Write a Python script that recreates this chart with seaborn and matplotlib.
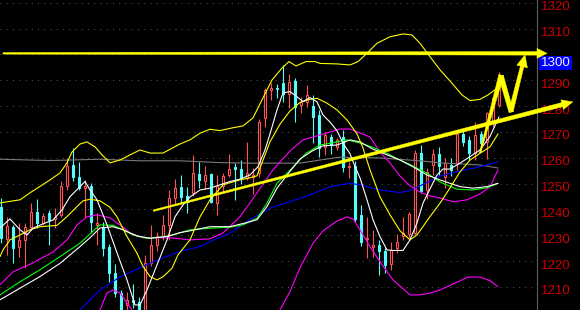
import numpy as np
import matplotlib
matplotlib.use("Agg")
import matplotlib.pyplot as plt
import matplotlib.transforms as mtransforms
from matplotlib.patches import Polygon
import seaborn as sns

# ---------------- candle data ----------------
opens = [1240.9, 1228.5, 1233.0, 1225.4, 1228.2, 1233.3, 1239.1, 1234.6, 1238.7, 1236.2,
         1237.9, 1249.1, 1257.2, 1252.7, 1248.2, 1249.1, 1234.0, 1233.3, 1225.6, 1215.4,
         1207.7, 1203.0, 1205.0, 1204.0, 1201.0, 1219.2, 1226.3, 1229.6, 1234.0, 1244.3,
         1248.8, 1245.2, 1246.3, 1253.7, 1251.1, 1253.7, 1242.4, 1249.1, 1253.3, 1256.3,
         1255.5, 1252.1, 1252.5, 1254.0, 1275.3, 1286.2, 1287.0, 1289.1, 1284.6, 1289.8,
         1280.4, 1281.7, 1280.0, 1276.5, 1264.3, 1268.1, 1264.3, 1267.9, 1256.3, 1256.8,
         1237.9, 1228.4, 1225.6, 1226.3, 1223.7, 1218.9, 1225.0, 1229.5, 1230.6, 1230.8,
         1261.7, 1247.5, 1257.2, 1261.4, 1252.7, 1257.2, 1257.9, 1269.2, 1266.9, 1261.7,
         1269.2, 1266.2, 1274.0, 1280.4]
highs = [1244.4, 1237.2, 1234.0, 1234.7, 1234.9, 1242.4, 1243.9, 1238.7, 1239.8, 1240.5,
         1250.8, 1259.8, 1263.7, 1258.5, 1251.4, 1250.2, 1238.6, 1235.0, 1226.5, 1219.0,
         1208.8, 1208.0, 1211.2, 1206.0, 1222.4, 1234.0, 1231.4, 1237.9, 1247.5, 1251.7,
         1253.3, 1248.8, 1261.0, 1258.5, 1256.8, 1254.0, 1253.3, 1254.0, 1261.5, 1258.0,
         1259.0, 1266.2, 1256.0, 1275.0, 1286.9, 1288.8, 1288.4, 1295.9, 1292.4, 1290.7,
         1283.6, 1288.1, 1284.3, 1278.5, 1270.1, 1269.0, 1267.7, 1270.7, 1258.5, 1258.8,
         1241.5, 1237.2, 1232.0, 1228.2, 1225.0, 1227.5, 1230.5, 1237.2, 1239.0, 1263.0,
         1264.9, 1256.0, 1263.2, 1264.0, 1259.8, 1259.8, 1270.1, 1271.0, 1268.5, 1273.9,
         1270.5, 1277.8, 1284.0, 1293.3]
lows = [1227.0, 1222.4, 1219.4, 1221.7, 1217.2, 1232.1, 1232.7, 1234.0, 1226.3, 1232.7,
        1237.2, 1247.5, 1250.8, 1247.5, 1237.2, 1231.0, 1226.3, 1222.0, 1212.0, 1206.0,
        1199.0, 1201.0, 1202.0, 1200.0, 1199.0, 1218.0, 1224.0, 1228.0, 1228.0, 1242.0,
        1242.4, 1238.5, 1245.0, 1248.2, 1248.0, 1242.4, 1238.0, 1246.3, 1252.7, 1243.7,
        1250.0, 1251.4, 1246.0, 1252.5, 1272.0, 1282.4, 1283.0, 1281.7, 1279.1, 1274.0,
        1277.2, 1279.7, 1265.6, 1260.4, 1261.0, 1261.5, 1263.0, 1254.6, 1252.0, 1235.0,
        1226.0, 1221.0, 1221.5, 1214.6, 1215.3, 1216.6, 1223.0, 1228.2, 1229.0, 1230.1,
        1246.3, 1244.0, 1253.3, 1253.3, 1248.2, 1253.0, 1255.3, 1264.5, 1259.0, 1259.1,
        1262.5, 1259.4, 1272.0, 1279.8]
closes = [1228.9, 1233.6, 1225.2, 1228.2, 1233.3, 1239.1, 1234.6, 1237.4, 1235.9, 1237.2,
          1249.1, 1256.8, 1252.4, 1248.2, 1249.1, 1235.2, 1234.7, 1225.0, 1215.3, 1207.7,
          1200.5, 1205.0, 1204.0, 1201.5, 1219.2, 1226.3, 1229.6, 1234.0, 1244.3, 1248.2,
          1244.9, 1243.0, 1254.0, 1251.4, 1253.4, 1243.0, 1249.1, 1252.9, 1255.8, 1255.5,
          1252.1, 1254.0, 1253.4, 1274.0, 1286.2, 1286.9, 1286.6, 1284.6, 1289.4, 1279.8,
          1281.7, 1284.3, 1275.9, 1263.7, 1268.8, 1264.9, 1266.9, 1256.5, 1256.8, 1236.2,
          1227.5, 1228.9, 1226.3, 1223.7, 1218.5, 1224.3, 1227.5, 1231.0, 1238.3, 1261.7,
          1247.3, 1254.6, 1261.4, 1256.6, 1257.9, 1255.3, 1269.2, 1266.2, 1261.7, 1268.8,
          1265.6, 1277.2, 1283.0, 1290.1]

tick_values = [1210, 1220, 1230, 1240, 1250, 1260, 1270, 1280, 1290, 1300, 1310, 1320]
tick_labels = [str(v) for v in tick_values]

# ---------------- indicator lines (x = bar index, y = price) ----------------
ma_fast_x = [-0.17, 1.5, 3.17, 4.33, 5.33, 7, 8.67, 10.17, 11.5, 13.17, 14, 14.83, 16, 17.67,
             19.33, 21, 22.33, 23.17, 24.33, 26, 27.67, 29, 30.33, 31.5, 33.17, 34.83, 36.5,
             38.17, 39.83, 41.5, 42.83, 44, 44.83, 46, 47, 48.17, 49.33, 50.33, 51.5, 52.67,
             53.67, 54.83, 56, 57, 58.17, 59, 59.83, 61, 62, 63.17, 64.33, 65.33, 67, 68.17,
             69.33, 70.33, 71.5, 72.67, 73.67, 74.83, 76.5, 78.17, 79.83, 81.5, 83]
ma_fast_y = [1232.8, 1236.3, 1232.1, 1230.1, 1232.7, 1234.4, 1235.9, 1239.8, 1244.9, 1248.8,
             1250.8, 1247.5, 1243.7, 1234.0, 1223.2, 1212.7, 1203.0, 1203.0, 1208.8, 1218.5,
             1228.2, 1237.1, 1241.7, 1244.8, 1247.5, 1248.2, 1249.5, 1250.8, 1251.7, 1253.3,
             1256.5, 1263.0, 1269.2, 1278.5, 1285.1, 1285.6, 1283.6, 1281.7, 1283.3, 1281.6,
             1276.5, 1273.8, 1270.4, 1265.6, 1261.5, 1256.5, 1252.2, 1243.7, 1236.0, 1229.4,
             1224.3, 1224.1, 1224.1, 1228.2, 1234.7, 1242.4, 1247.9, 1253.3, 1255.6, 1255.6,
             1257.9, 1260.4, 1263.0, 1268.2, 1275.8]

ma_yellow_x = [-0.17, 0.33, 1.5, 3.17, 4.83, 6.5, 9.33, 11, 12.67, 13.67, 14.83, 16.5, 18.17,
               19.33, 21, 22.67, 23.67, 24.83, 26, 27, 28.5, 29.5, 31.5, 33.17, 34.83, 37,
               39.83, 41.5, 42.67, 43.67, 44.83, 46.5, 48.17, 49.83, 51.17, 52.67, 54.33, 56,
               57.67, 59.33, 60.33, 61.5, 63.17, 64.83, 66.5, 68.17, 69.33, 71.5, 73.17, 74.83,
               76.5, 78.17, 79.83, 81.5, 82.83]
ma_yellow_y = [1221.7, 1224.3, 1228.2, 1230.1, 1232.1, 1233.3, 1233.8, 1237.2, 1241.1, 1243.3,
               1243.9, 1243.3, 1240.8, 1237.1, 1229.5, 1223.0, 1217.9, 1214.0, 1212.7, 1213.9,
               1217.2, 1222.4, 1228.2, 1237.1, 1243.7, 1249.5, 1251.4, 1252.2, 1253.0, 1259.1,
               1266.1, 1273.0, 1278.1, 1281.4, 1282.4, 1283.0, 1281.1, 1278.5, 1274.6, 1269.2,
               1263.8, 1255.3, 1244.8, 1237.9, 1231.7, 1228.2, 1230.1, 1237.2, 1242.4, 1248.3,
               1254.5, 1259.1, 1261.7, 1264.2, 1269.2]

ma_green_x = [-0.17, 3.17, 6.5, 9.83, 13.17, 14.83, 16.5, 18.67, 20.33, 22, 24.33, 26.5, 28.67,
              31.5, 34.83, 38.17, 40.33, 42.67, 44.33, 46, 47.67, 49.33, 50.83, 53.17, 55.33,
              57.67, 59.83, 62, 64.33, 66.5, 68.67, 71, 73.17, 76, 78.67, 81, 82.83]
ma_green_y = [1206.9, 1212.0, 1216.6, 1221.7, 1226.9, 1230.5, 1234.0, 1233.8, 1232.1, 1230.1,
              1228.8, 1229.2, 1230.1, 1232.1, 1232.7, 1233.1, 1234.0, 1236.6, 1242.4, 1250.1,
              1254.0, 1257.9, 1261.7, 1264.9, 1265.8, 1266.9, 1265.7, 1264.0, 1261.7, 1259.1,
              1256.8, 1254.0, 1250.6, 1247.8, 1247.5, 1248.4, 1250.0]

ma_white2_x = [-0.17, 3.17, 6.5, 9.83, 13.17, 14.83, 16.5, 18.67, 20.33, 22.67, 24.83, 27.67,
               29.83, 31.5, 34.83, 38.17, 41, 42.67, 44.33, 46, 47.67, 49.83, 52, 53.67, 56,
               58.17, 59.83, 62, 66.5, 68.67, 71, 73.17, 76.5, 78.67, 81, 82.83]
ma_white2_y = [1205.0, 1209.5, 1214.0, 1219.1, 1225.6, 1229.0, 1232.8, 1233.3, 1232.1, 1229.7,
               1228.8, 1229.5, 1231.0, 1231.7, 1233.3, 1233.3, 1234.9, 1236.0, 1241.1, 1248.2,
               1253.3, 1259.5, 1262.8, 1264.6, 1264.9, 1266.9, 1266.1, 1263.3, 1259.1, 1256.5,
               1253.3, 1251.4, 1248.8, 1248.2, 1248.8, 1250.1]

ma_magenta_x = [-0.17, 2, 5.33, 8.67, 11, 12.67, 14.33, 16, 18.17, 19.83, 21.5, 23.67, 26,
                28.17, 31.5, 34.83, 37, 39.83, 42.67, 45.33, 48.17, 50.33, 52, 54.33, 56.5,
                58.17, 59.83, 61.5, 63.17, 64.83, 66.5, 68.17, 69.83, 71.5, 73.17, 75.33,
                77.67, 79.83, 81.5, 82.83]
ma_magenta_y = [1210.8, 1215.8, 1219.3, 1223.5, 1228.2, 1234.0, 1237.1, 1237.9, 1236.7, 1234.0,
                1230.9, 1229.0, 1229.0, 1229.0, 1228.2, 1228.6, 1230.9, 1237.1, 1246.4, 1255.3,
                1262.6, 1266.9, 1268.0, 1269.6, 1271.1, 1271.1, 1269.6, 1268.0, 1262.2, 1258.0,
                1252.9, 1249.1, 1246.7, 1245.2, 1244.4, 1242.9, 1243.7, 1246.0, 1248.7, 1255.3]

ma_blue_x = [12.5, 13.17, 16.5, 19.83, 23.67, 26.5, 29.83, 33.17, 34.83, 38.17, 41.5, 44.83,
             48.17, 51.5, 54.83, 58.17, 59.83, 63.17, 66.5, 68.17, 69.83, 73.17, 76.5, 79.83,
             82.83]
ma_blue_y = [1199.5, 1201.1, 1208.8, 1213.9, 1217.9, 1220.8, 1223.7, 1225.6, 1227.5, 1230.8,
             1236.0, 1240.5, 1243.0, 1245.6, 1248.8, 1250.1, 1249.5, 1247.5, 1246.5, 1247.3,
             1249.1, 1252.9, 1254.9, 1256.5, 1258.4]

ma_gray_x = [-0.17, 8.17, 16.5, 23.17, 29.83, 36.5, 41.5, 49.83, 53.17, 56.5, 63.17, 69.83,
             73.17, 79.83, 82.83]
ma_gray_y = [1259.4, 1258.9, 1259.4, 1258.8, 1258.8, 1258.1, 1257.9, 1257.9, 1259.1, 1260.2,
             1259.9, 1258.8, 1258.0, 1257.2, 1256.0]

band_up_x = [-0.17, 3.17, 4.83, 8.17, 9.83, 11, 11.83, 13.17, 14.33, 15.67, 16.83, 18.17,
             19.83, 21.5, 23.17, 24.83, 27, 29.83, 31.5, 33.17, 34.83, 36.5, 38.67, 40.33, 42,
             43.5, 45.17, 46.83, 48, 49.17, 50.83, 52.33, 53.17, 56, 58.17, 59.5, 61, 62.67,
             64.83, 67, 68.5, 69.83, 71.5, 73.17, 75.17, 76.83, 78.17, 79.83, 81.17, 82.67,
             83.17]
band_up_y = [1242.5, 1243.7, 1246.4, 1251.4, 1254.1, 1258.0, 1262.2, 1265.3, 1266.1, 1264.2,
             1261.1, 1258.0, 1259.1, 1261.1, 1263.0, 1261.8, 1261.8, 1265.3, 1266.9, 1269.5,
             1271.0, 1270.5, 1271.6, 1272.3, 1275.4, 1282.4, 1290.1, 1294.7, 1297.2, 1295.5,
             1297.2, 1297.2, 1296.5, 1296.3, 1295.9, 1297.2, 1300.4, 1304.3, 1306.8, 1307.9,
             1307.5, 1304.3, 1299.1, 1294.0, 1288.8, 1284.3, 1282.1, 1282.6, 1284.3, 1286.9,
             1287.5]

band_low1_x = [16.0, 16.5, 17.67, 18.67, 19.83, 21, 21.83, 22.3]
band_low1_y = [1199.0, 1201.1, 1207.7, 1208.8, 1207.7, 1203.8, 1201.1, 1199.0]
band_low2_x = [46.0, 46.5, 48.17, 49.83, 52, 53.67, 56, 57.67, 58.67, 59.83, 61.5, 63.17, 65.33,
               68.17, 69.83, 71.5, 73.17, 75.33, 77.83, 79.83, 81.5, 82.83]
band_low2_y = [1199.0, 1201.1, 1208.2, 1217.4, 1226.9, 1231.7, 1235.5, 1237.1, 1236.3, 1232.1,
               1225.6, 1219.7, 1212.7, 1206.9, 1206.9, 1207.6, 1208.8, 1211.1, 1213.8, 1213.8,
               1212.4, 1210.1]

# ---------------- style ----------------
sns.set_theme(style="dark")
plt.rcParams['font.family'] = ['Liberation Sans', 'DejaVu Sans']

BG = '#000000'
RED = '#ff5454'
CYAN = '#54fcfc'
YEL = '#ffff00'

fig = plt.figure(figsize=(5.8, 3.1), dpi=100, facecolor=BG)
ax = fig.add_axes([0, 0, 537 / 580, 1])
ax.set_facecolor(BG)

x_left, x_right = -1 / 6, 536 / 6
ax.set_xlim(x_left, x_right)
ax.set_ylim(1201.05, 1321.04)

# grid
for v in tick_values:
    ax.axhline(v, color='#505050', linewidth=0.75, linestyle=(0, (1, 5)), zorder=1)

# candles
idx = np.arange(len(opens))
o = np.array(opens); c = np.array(closes); h = np.array(highs); l = np.array(lows)
up = c >= o
cols = np.where(up, RED, CYAN)
ax.vlines(idx, l, h, colors=cols, linewidth=0.8, zorder=3)
bottoms = np.minimum(o, c)
heights = np.maximum(np.abs(c - o), 0.3)
ax.bar(idx[up], heights[up], bottom=bottoms[up], width=0.45, facecolor=BG,
       edgecolor=RED, linewidth=0.8, zorder=4)
ax.bar(idx[~up], heights[~up], bottom=bottoms[~up], width=0.45, facecolor=CYAN,
       edgecolor=CYAN, linewidth=0.8, zorder=4)

# indicator lines
def line(xs, ys, color, lw=0.8):
    sns.lineplot(x=xs, y=ys, ax=ax, color=color, linewidth=lw, sort=False,
                 estimator=None, legend=False, zorder=5)

line(ma_gray_x, ma_gray_y, '#7a7a7a')
line(ma_blue_x, ma_blue_y, '#0000ff')
line(band_low1_x, band_low1_y, '#ff00ff')
line(band_low2_x, band_low2_y, '#ff00ff')
line(ma_magenta_x, ma_magenta_y, '#ff00ff')
line(ma_green_x, ma_green_y, '#00ff00')
line(ma_white2_x, ma_white2_y, '#ffffff')
line(band_up_x, band_up_y, YEL)
line(ma_yellow_x, ma_yellow_y, YEL)
line(ma_fast_x, ma_fast_y, '#ffffff')

ax.set_xlabel('')
ax.set_ylabel('')

# axes / ticks
for s in ['top', 'left', 'bottom']:
    ax.spines[s].set_visible(False)
ax.spines['right'].set_color('#606060')
ax.spines['right'].set_linewidth(0.8)
ax.set_xticks([])
ax.yaxis.tick_right()
ax.set_yticks(tick_values)
ax.set_yticklabels(tick_labels)
ax.tick_params(axis='y', length=0, pad=2.5, labelsize=9.6, labelcolor='#cc0000')
ax.grid(False)

for val, lab in zip(tick_values, ax.get_yticklabels()):
    if val == 1300:
        off = mtransforms.ScaledTranslation(0, -0.07, fig.dpi_scale_trans)
        lab.set_color('#f0f0f0')
        lab.set_bbox(dict(boxstyle='square,pad=0.1', facecolor='#0000ff', edgecolor='none'))
    else:
        off = mtransforms.ScaledTranslation(0, -0.03, fig.dpi_scale_trans)
    lab.set_transform(lab.get_transform() + off)

# ---------------- hand-drawn yellow arrows ----------------
def wedge(a, b, w0, w1, head_w=0.0, head_len=0.0):
    pa, pb = ax.transData.transform([a, b])
    d = pb - pa
    d = d / np.hypot(*d)
    n = np.array([-d[1], d[0]])
    if head_len > 0:
        s = pb - d * head_len
        pts = [pa + n * w0 / 2, s + n * w1 / 2, s + n * head_w / 2, pb,
               s - n * head_w / 2, s - n * w1 / 2, pa - n * w0 / 2]
    else:
        pe = pb + d * 1.0
        pts = [pa + n * w0 / 2, pe + n * w1 / 2, pe - n * w1 / 2, pa - n * w0 / 2]
    poly = Polygon(pts, closed=True, transform=mtransforms.IdentityTransform(),
                   facecolor=YEL, edgecolor=YEL, linewidth=0.3, zorder=20)
    fig.add_artist(poly)

# horizontal resistance arrow
wedge((0.33, 1300.4), (91.0, 1300.4), 1.6, 3.6, head_w=10, head_len=10)
# rising trend arrow
wedge((25.4, 1239.5), (95.3, 1281.6), 1.6, 4.2, head_w=10, head_len=11)
# zigzag projection
p0 = (79.83, 1261.8)
p1 = (83.33, 1291.6)
p2 = (85.0, 1278.0)
p3 = (87.33, 1299.8)
wedge(p0, p1, 1.2, 5.0)
wedge(p1, p2, 5.0, 4.5)
wedge(p2, p3, 4.5, 3.5, head_w=11, head_len=12)

fig.savefig('out.png', dpi=100, facecolor=BG)
